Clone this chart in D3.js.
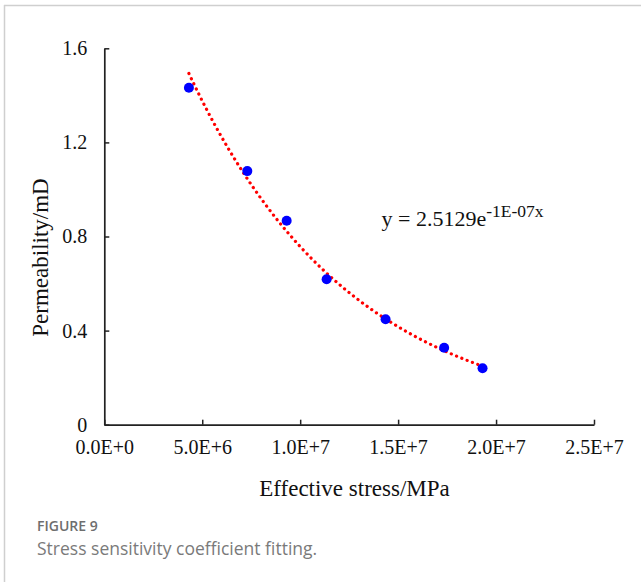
<!DOCTYPE html>
<html>
<head>
<meta charset="utf-8">
<script src="https://cdn.jsdelivr.net/npm/d3@7"></script>
<style>
  body { margin: 0; background: #fff; }
  svg { display: block; }
</style>
</head>
<body>
<div id="chart"></div>
<script>
// measured points: effective stress (Pa, labelled MPa) vs permeability (mD)
const stressValues = [4.32e6, 7.30e6, 9.31e6, 11.35e6, 14.36e6, 17.35e6, 19.31e6];
const permeabilityValues = [1.432, 1.078, 0.867, 0.618, 0.448, 0.327, 0.240];
const xTicks = [0, 5e6, 1e7, 1.5e7, 2e7, 2.5e7];
const yTicks = [0, 0.4, 0.8, 1.2, 1.6];
const equationMain = "y = 2.5129e";
const equationExp = "-1E-07x";

var dimensions = {
    width: 641,
    height: 582,
    margin: { top: 48.3, bottom: 157.3, left: 104.3, right: 47 }
};

var svg = d3.select("#chart")
    .append("svg")
    .attr("width", dimensions.width)
    .attr("height", dimensions.height);

// page frame (top and left rules of the article panel)
svg.append("line").attr("x1", 4).attr("y1", 5.5).attr("x2", 641).attr("y2", 5.5)
    .attr("stroke", "#cfcfcf").attr("stroke-width", 1.5);
svg.append("line").attr("x1", 4.5).attr("y1", 5).attr("x2", 4.5).attr("y2", 582)
    .attr("stroke", "#cfcfcf").attr("stroke-width", 1.5);

const x = d3.scaleLinear()
    .domain([0, 2.5e7])
    .range([dimensions.margin.left, dimensions.width - dimensions.margin.right]);
const y = d3.scaleLinear()
    .domain([0, 1.6])
    .range([dimensions.height - dimensions.margin.bottom, dimensions.margin.top]);

function sciFormat(v) {
    if (v === 0) return "0.0E+0";
    const e = Math.floor(Math.log10(v));
    return (v / Math.pow(10, e)).toFixed(1) + "E+" + e;
}

const axisColor = "#222";
const serif = "'Liberation Serif', 'Times New Roman', serif";

// x axis
const xAxis = svg.append("g")
    .attr("transform", `translate(0, ${y(0)})`)
    .call(d3.axisBottom(x).tickValues(xTicks).tickFormat(sciFormat)
        .tickSizeInner(-5).tickSizeOuter(0).tickPadding(15));

// y axis
const yAxis = svg.append("g")
    .attr("transform", `translate(${x(0)}, 0)`)
    .call(d3.axisLeft(y).tickValues(yTicks)
        .tickFormat(d => d === 0 ? "0" : d3.format(".1f")(d))
        .tickSizeInner(-5).tickSizeOuter(0).tickPadding(17));

[xAxis, yAxis].forEach(a => {
    a.select(".domain").attr("stroke", axisColor).attr("stroke-width", 1.7);
    a.selectAll(".tick line").attr("stroke", axisColor).attr("stroke-width", 1.5);
    a.selectAll(".tick text")
        .attr("fill", "#111")
        .style("font-family", serif)
        .style("font-size", "20px");
});

// axis titles
svg.append("text")
    .attr("x", 354.5)
    .attr("y", 496)
    .attr("text-anchor", "middle")
    .style("font-family", serif)
    .style("font-size", "23px")
    .attr("fill", "#111")
    .text("Effective stress/MPa");

svg.append("text")
    .attr("transform", "translate(47.5, 257.5) rotate(-90)")
    .attr("text-anchor", "middle")
    .style("font-family", serif)
    .style("font-size", "23px")
    .attr("fill", "#111")
    .text("Permeability/mD");

// exponential trendline fitted to the points (least squares on ln y)
const lnY = permeabilityValues.map(v => Math.log(v));
const mx = d3.mean(stressValues), my = d3.mean(lnY);
let sxy = 0, sxx = 0;
stressValues.forEach((v, i) => {
    sxy += (v - mx) * (lnY[i] - my);
    sxx += (v - mx) * (v - mx);
});
const slope = sxy / sxx;
const coef = Math.exp(my - slope * mx);

const trendX = d3.range(0, 101).map(i =>
    stressValues[0] + (stressValues[stressValues.length - 1] - stressValues[0]) * i / 100);

svg.append("path")
    .datum(trendX)
    .attr("d", d3.line().x(d => x(d)).y(d => y(coef * Math.exp(slope * d))))
    .attr("fill", "none")
    .attr("stroke", "#ff0000")
    .attr("stroke-width", 3.2)
    .attr("stroke-linecap", "round")
    .attr("stroke-dasharray", "0.1 5.6");

// data points
svg.selectAll(".data-point")
    .data(stressValues)
    .enter().append("circle")
    .attr("class", "data-point")
    .attr("cx", d => x(d))
    .attr("cy", (d, i) => y(permeabilityValues[i]))
    .attr("r", 5)
    .attr("fill", "#0000ff");

// trendline equation
const eq = svg.append("text")
    .attr("x", 381.5)
    .attr("y", 226)
    .style("font-family", serif)
    .style("font-size", "22px")
    .attr("fill", "#111");
eq.append("tspan").text(equationMain);
eq.append("tspan").attr("dy", -9).style("font-size", "17.5px").text(equationExp);

// caption
svg.append("text")
    .attr("x", 37)
    .attr("y", 531)
    .style("font-family", "'Open Sans', 'Noto Sans', sans-serif")
    .style("font-size", "14px")
    .style("font-weight", 600)
    .attr("fill", "#6e6e6e")
    .text("FIGURE 9");

svg.append("text")
    .attr("x", 37)
    .attr("y", 555)
    .style("font-family", "'Open Sans', 'Noto Sans', sans-serif")
    .style("font-size", "17.5px")
    .attr("fill", "#7a7a7a")
    .text("Stress sensitivity coefficient fitting.");
</script>
</body>
</html>
